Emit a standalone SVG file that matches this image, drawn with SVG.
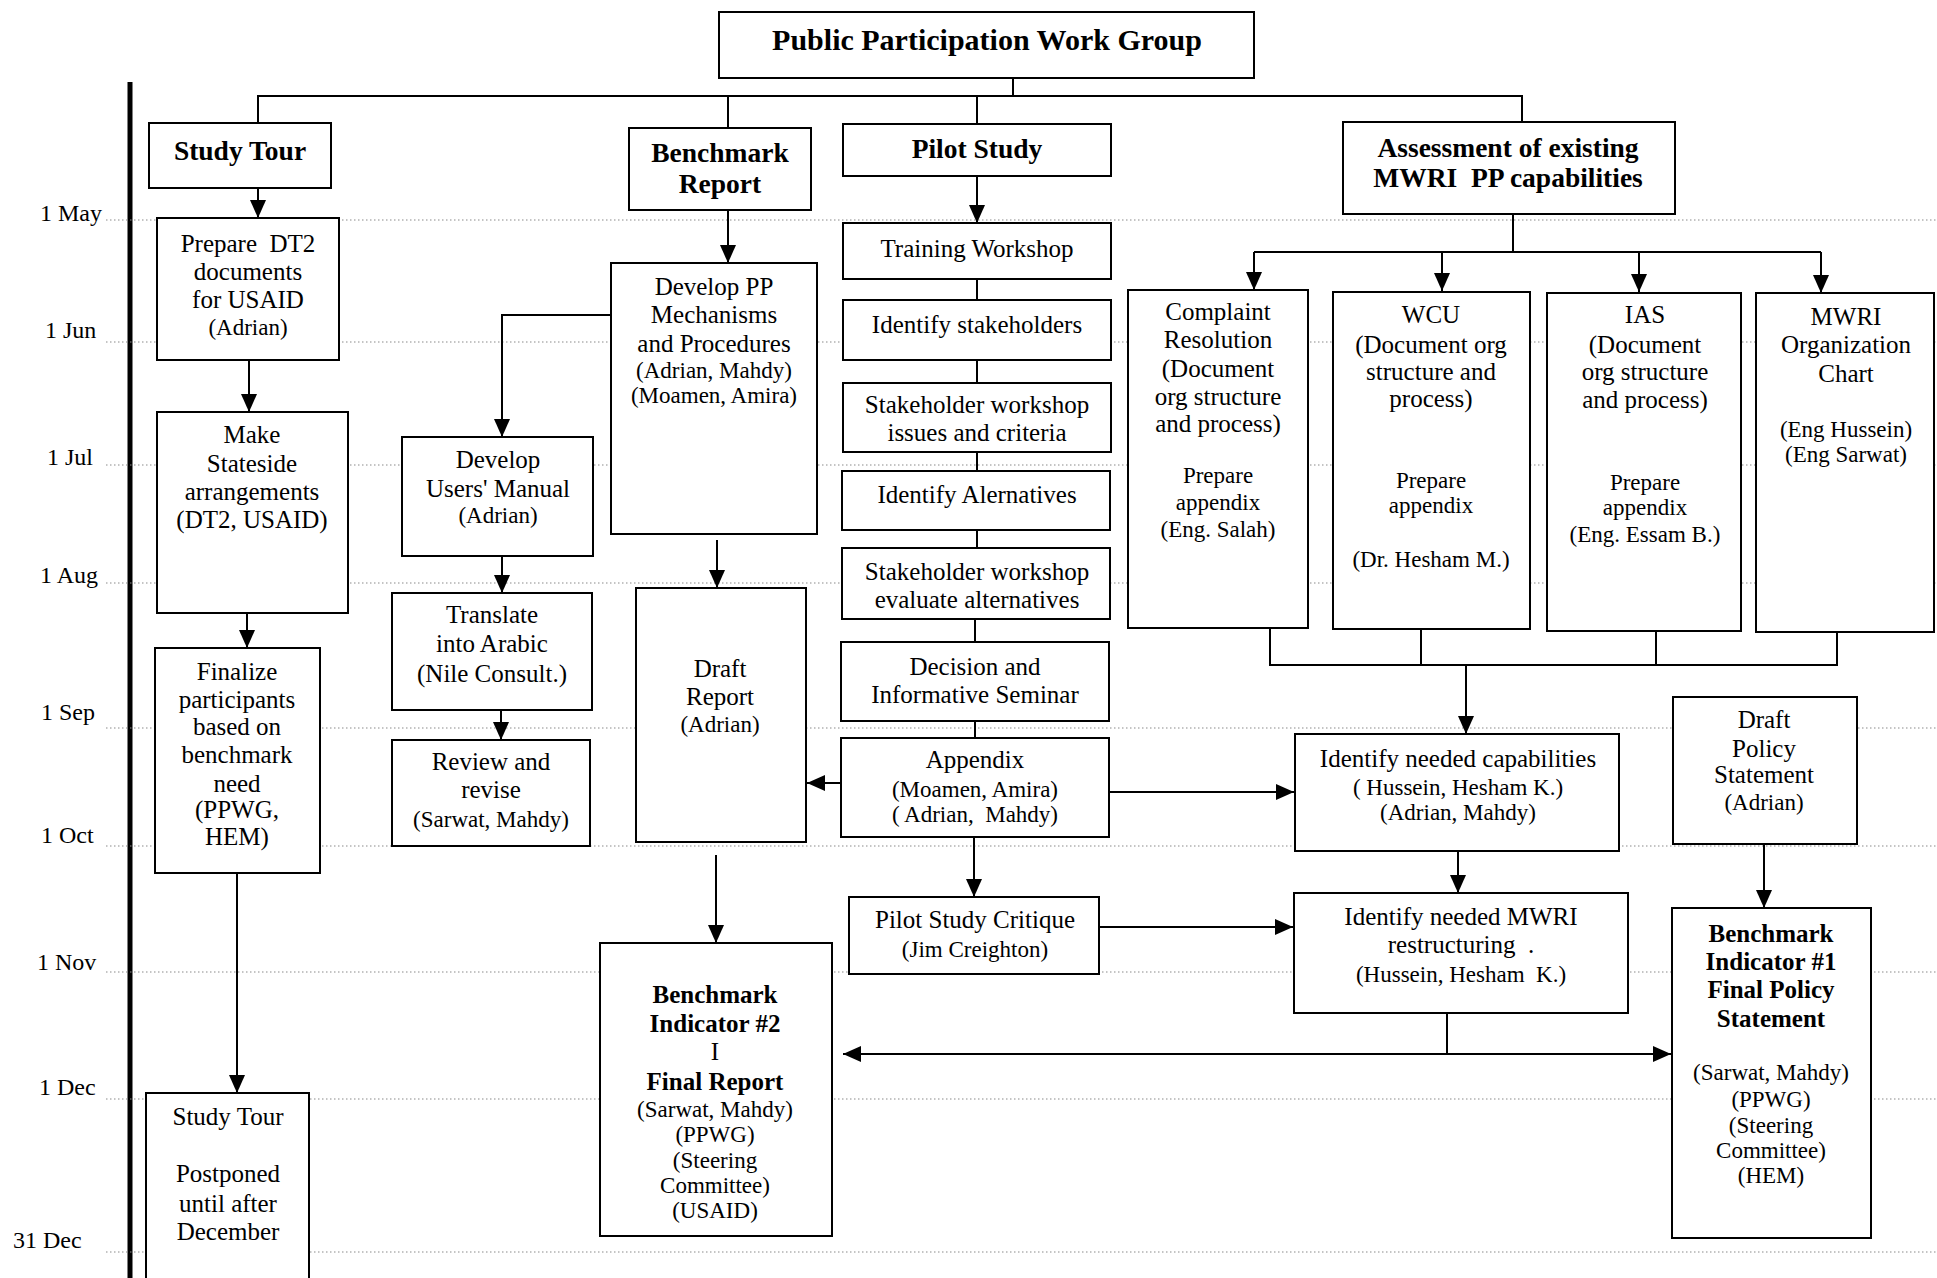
<svg xmlns="http://www.w3.org/2000/svg" width="1937" height="1278" viewBox="0 0 1937 1278">
<defs>
<style>
.box{fill:#fff;stroke:#000;stroke-width:2}
.t{font-family:"Liberation Serif","Times New Roman",serif;font-size:25px;text-anchor:middle;fill:#000}
.n{font-size:23px}
.h{font-size:27.5px;font-weight:bold}
.b{font-weight:bold}
.mo{font-family:"Liberation Serif","Times New Roman",serif;font-size:24px;fill:#000}
.g{stroke:#8a8a8a;stroke-width:1.2;stroke-dasharray:1.5 2.5;fill:none}
.c{fill:none;stroke:#000;stroke-width:2}
.a{marker-end:url(#ah)}
</style>
<marker id="ah" viewBox="0 0 18 16" refX="18" refY="8" markerWidth="18" markerHeight="16" markerUnits="userSpaceOnUse" orient="auto-start-reverse"><path d="M0,0 L18,8 L0,16 z" fill="#000"/></marker>
</defs>
<rect width="1937" height="1278" fill="#fff"/>

<g id="timeline">
<line x1="130" y1="82" x2="130" y2="1278" stroke="#000" stroke-width="5"/>
<line class="g" x1="106" y1="220" x2="1937" y2="220"/>
<line class="g" x1="106" y1="342" x2="1937" y2="342"/>
<line class="g" x1="106" y1="465" x2="1937" y2="465"/>
<line class="g" x1="106" y1="583" x2="1937" y2="583"/>
<line class="g" x1="106" y1="728" x2="1937" y2="728"/>
<line class="g" x1="106" y1="846" x2="1937" y2="846"/>
<line class="g" x1="106" y1="972" x2="1937" y2="972"/>
<line class="g" x1="106" y1="1099" x2="1937" y2="1099"/>
<line class="g" x1="106" y1="1252" x2="1937" y2="1252"/>
<text class="mo" x="40" y="221">1 May</text>
<text class="mo" x="45" y="338">1 Jun</text>
<text class="mo" x="47" y="465">1 Jul</text>
<text class="mo" x="40" y="583">1 Aug</text>
<text class="mo" x="41" y="720">1 Sep</text>
<text class="mo" x="41" y="843">1 Oct</text>
<text class="mo" x="37" y="970">1 Nov</text>
<text class="mo" x="39" y="1095">1 Dec</text>
<text class="mo" x="13" y="1248">31 Dec</text>
</g>

<g id="connectors">
<path class="c" d="M1013,77 V97"/>
<path class="c" d="M258,124 V96 H1522 V122"/>
<path class="c" d="M728,96 V128"/>
<path class="c" d="M977,96 V124"/>
<path class="c a" d="M258,188 V218"/>
<path class="c a" d="M249,360 V412"/>
<path class="c a" d="M247,613 V648"/>
<path class="c a" d="M237,873 V1093"/>
<path class="c a" d="M728,210 V263"/>
<path class="c a" d="M611,315 H502 V437"/>
<path class="c a" d="M502,556 V593"/>
<path class="c a" d="M501,710 V740"/>
<path class="c a" d="M717,540 V588"/>
<path class="c a" d="M716,855 V943"/>
<path class="c a" d="M841,783 H807"/>
<path class="c a" d="M977,176 V223"/>
<path class="c" d="M977,279 V300"/>
<path class="c" d="M977,360 V383"/>
<path class="c" d="M977,452 V471"/>
<path class="c" d="M977,530 V548"/>
<path class="c" d="M975,619 V642"/>
<path class="c" d="M975,721 V738"/>
<path class="c a" d="M974,837 V897"/>
<path class="c a" d="M1109,792 H1294"/>
<path class="c a" d="M1099,927 H1293"/>
<path class="c" d="M1513,214 V252 M1254,252 H1821"/>
<path class="c a" d="M1254,252 V290"/>
<path class="c a" d="M1442,252 V291"/>
<path class="c a" d="M1639,252 V292"/>
<path class="c a" d="M1821,252 V293"/>
<path class="c" d="M1270,628 V665 H1837 V632 M1421,629 V665 M1656,631 V665"/>
<path class="c a" d="M1466,665 V734"/>
<path class="c a" d="M1458,851 V893"/>
<path class="c" d="M1447,1013 V1054"/>
<path class="c" d="M843,1054 H1671" marker-start="url(#ah)" marker-end="url(#ah)"/>
<path class="c a" d="M1764,844 V908"/>
</g>

<g id="title">
<rect class="box" x="719" y="12" width="535" height="66"/>
<text class="t b" x="987" y="50" style="font-size:30px">Public Participation Work Group</text>
</g>

<g id="study-tour">
<rect class="box" x="149" y="123" width="182" height="65"/>
<text class="t h" x="240" y="160">Study Tour</text>
</g>
<g id="prepare-dt2">
<rect class="box" x="157" y="218" width="182" height="142"/>
<text class="t" x="248" y="252" xml:space="preserve">Prepare  DT2</text>
<text class="t" x="248" y="280">documents</text>
<text class="t" x="248" y="308">for USAID</text>
<text class="t n" x="248" y="335">(Adrian)</text>
</g>
<g id="make-stateside">
<rect class="box" x="157" y="412" width="191" height="201"/>
<text class="t" x="252" y="443">Make</text>
<text class="t" x="252" y="472">Stateside</text>
<text class="t" x="252" y="500">arrangements</text>
<text class="t" x="252" y="528">(DT2, USAID)</text>
</g>
<g id="finalize">
<rect class="box" x="155" y="648" width="165" height="225"/>
<text class="t" x="237" y="680">Finalize</text>
<text class="t" x="237" y="708">participants</text>
<text class="t" x="237" y="735">based on</text>
<text class="t" x="237" y="763">benchmark</text>
<text class="t" x="237" y="792">need</text>
<text class="t" x="237" y="818">(PPWG,</text>
<text class="t" x="237" y="845">HEM)</text>
</g>
<g id="study-tour-postponed">
<rect class="box" x="146" y="1093" width="163" height="200"/>
<text class="t" x="228" y="1125">Study Tour</text>
<text class="t" x="228" y="1182">Postponed</text>
<text class="t" x="228" y="1212">until after</text>
<text class="t" x="228" y="1240">December</text>
</g>

<g id="benchmark-report">
<rect class="box" x="629" y="128" width="182" height="82"/>
<text class="t h" x="720" y="162">Benchmark</text>
<text class="t h" x="720" y="193">Report</text>
</g>
<g id="develop-pp">
<rect class="box" x="611" y="263" width="206" height="271"/>
<text class="t" x="714" y="295">Develop PP</text>
<text class="t" x="714" y="323">Mechanisms</text>
<text class="t" x="714" y="352">and Procedures</text>
<text class="t n" x="714" y="378">(Adrian, Mahdy)</text>
<text class="t n" x="714" y="403">(Moamen, Amira)</text>
</g>
<g id="users-manual">
<rect class="box" x="402" y="437" width="191" height="119"/>
<text class="t" x="498" y="468">Develop</text>
<text class="t" x="498" y="497">Users' Manual</text>
<text class="t n" x="498" y="523">(Adrian)</text>
</g>
<g id="translate">
<rect class="box" x="392" y="593" width="200" height="117"/>
<text class="t" x="492" y="623">Translate</text>
<text class="t" x="492" y="652">into Arabic</text>
<text class="t" x="492" y="682">(Nile Consult.)</text>
</g>
<g id="review">
<rect class="box" x="392" y="740" width="198" height="106"/>
<text class="t" x="491" y="770">Review and</text>
<text class="t" x="491" y="798">revise</text>
<text class="t n" x="491" y="827">(Sarwat, Mahdy)</text>
</g>
<g id="draft-report">
<rect class="box" x="636" y="588" width="170" height="254"/>
<text class="t" x="720" y="677">Draft</text>
<text class="t" x="720" y="705">Report</text>
<text class="t n" x="720" y="732">(Adrian)</text>
</g>
<g id="benchmark-2">
<rect class="box" x="600" y="943" width="232" height="293"/>
<text class="t b" x="715" y="1003">Benchmark</text>
<text class="t b" x="715" y="1032">Indicator #2</text>
<text class="t" x="715" y="1060">I</text>
<text class="t b" x="715" y="1090">Final Report</text>
<text class="t n" x="715" y="1117">(Sarwat, Mahdy)</text>
<text class="t n" x="715" y="1142">(PPWG)</text>
<text class="t n" x="715" y="1168">(Steering</text>
<text class="t n" x="715" y="1193">Committee)</text>
<text class="t n" x="715" y="1218">(USAID)</text>
</g>

<g id="pilot-study">
<rect class="box" x="843" y="124" width="268" height="52"/>
<text class="t h" x="977" y="158">Pilot Study</text>
</g>
<g id="training-workshop">
<rect class="box" x="843" y="223" width="268" height="56"/>
<text class="t" x="977" y="257">Training Workshop</text>
</g>
<g id="identify-stakeholders">
<rect class="box" x="843" y="300" width="268" height="60"/>
<text class="t" x="977" y="333">Identify stakeholders</text>
</g>
<g id="stakeholder-issues">
<rect class="box" x="843" y="383" width="268" height="69"/>
<text class="t" x="977" y="413">Stakeholder workshop</text>
<text class="t" x="977" y="441">issues and criteria</text>
</g>
<g id="identify-alternatives">
<rect class="box" x="842" y="471" width="268" height="59"/>
<text class="t" x="977" y="503">Identify Alernatives</text>
</g>
<g id="stakeholder-evaluate">
<rect class="box" x="842" y="548" width="268" height="71"/>
<text class="t" x="977" y="580">Stakeholder workshop</text>
<text class="t" x="977" y="608">evaluate alternatives</text>
</g>
<g id="decision-seminar">
<rect class="box" x="841" y="642" width="268" height="79"/>
<text class="t" x="975" y="675">Decision and</text>
<text class="t" x="975" y="703">Informative Seminar</text>
</g>
<g id="appendix">
<rect class="box" x="841" y="738" width="268" height="99"/>
<text class="t" x="975" y="768">Appendix</text>
<text class="t n" x="975" y="797">(Moamen, Amira)</text>
<text class="t n" x="975" y="822" xml:space="preserve">( Adrian,  Mahdy)</text>
</g>
<g id="pilot-critique">
<rect class="box" x="849" y="897" width="250" height="77"/>
<text class="t" x="975" y="928">Pilot Study Critique</text>
<text class="t n" x="975" y="957">(Jim Creighton)</text>
</g>

<g id="assessment">
<rect class="box" x="1343" y="122" width="332" height="92"/>
<text class="t h" x="1508" y="157">Assessment of existing</text>
<text class="t h" x="1508" y="187" xml:space="preserve">MWRI  PP capabilities</text>
</g>
<g id="complaint-resolution">
<rect class="box" x="1128" y="290" width="180" height="338"/>
<text class="t" x="1218" y="320">Complaint</text>
<text class="t" x="1218" y="348">Resolution</text>
<text class="t" x="1218" y="377">(Document</text>
<text class="t" x="1218" y="405">org structure</text>
<text class="t" x="1218" y="432">and process)</text>
<text class="t n" x="1218" y="483">Prepare</text>
<text class="t n" x="1218" y="510">appendix</text>
<text class="t n" x="1218" y="537">(Eng. Salah)</text>
</g>
<g id="wcu">
<rect class="box" x="1333" y="292" width="197" height="337"/>
<text class="t" x="1431" y="323">WCU</text>
<text class="t" x="1431" y="353">(Document org</text>
<text class="t" x="1431" y="380">structure and</text>
<text class="t" x="1431" y="407">process)</text>
<text class="t n" x="1431" y="488">Prepare</text>
<text class="t n" x="1431" y="513">appendix</text>
<text class="t n" x="1431" y="567">(Dr. Hesham M.)</text>
</g>
<g id="ias">
<rect class="box" x="1547" y="293" width="194" height="338"/>
<text class="t" x="1645" y="323">IAS</text>
<text class="t" x="1645" y="353">(Document</text>
<text class="t" x="1645" y="380">org structure</text>
<text class="t" x="1645" y="408">and process)</text>
<text class="t n" x="1645" y="490">Prepare</text>
<text class="t n" x="1645" y="515">appendix</text>
<text class="t n" x="1645" y="542">(Eng. Essam B.)</text>
</g>
<g id="mwri-chart">
<rect class="box" x="1756" y="293" width="178" height="339"/>
<text class="t" x="1846" y="325">MWRI</text>
<text class="t" x="1846" y="353">Organization</text>
<text class="t" x="1846" y="382">Chart</text>
<text class="t n" x="1846" y="437">(Eng Hussein)</text>
<text class="t n" x="1846" y="462">(Eng Sarwat)</text>
</g>
<g id="identify-capabilities">
<rect class="box" x="1295" y="734" width="324" height="117"/>
<text class="t" x="1458" y="767">Identify needed capabilities</text>
<text class="t n" x="1458" y="795" xml:space="preserve">( Hussein, Hesham K.)</text>
<text class="t n" x="1458" y="820">(Adrian, Mahdy)</text>
</g>
<g id="identify-restructuring">
<rect class="box" x="1294" y="893" width="334" height="120"/>
<text class="t" x="1461" y="925">Identify needed MWRI</text>
<text class="t" x="1461" y="953" xml:space="preserve">restructuring  .</text>
<text class="t n" x="1461" y="982" xml:space="preserve">(Hussein, Hesham  K.)</text>
</g>
<g id="draft-policy">
<rect class="box" x="1673" y="697" width="184" height="147"/>
<text class="t" x="1764" y="728">Draft</text>
<text class="t" x="1764" y="757">Policy</text>
<text class="t" x="1764" y="783">Statement</text>
<text class="t n" x="1764" y="810">(Adrian)</text>
</g>
<g id="benchmark-1">
<rect class="box" x="1672" y="908" width="199" height="330"/>
<text class="t b" x="1771" y="942">Benchmark</text>
<text class="t b" x="1771" y="970">Indicator #1</text>
<text class="t b" x="1771" y="998">Final Policy</text>
<text class="t b" x="1771" y="1027">Statement</text>
<text class="t n" x="1771" y="1080">(Sarwat, Mahdy)</text>
<text class="t n" x="1771" y="1107">(PPWG)</text>
<text class="t n" x="1771" y="1133">(Steering</text>
<text class="t n" x="1771" y="1158">Committee)</text>
<text class="t n" x="1771" y="1183">(HEM)</text>
</g>
</svg>
